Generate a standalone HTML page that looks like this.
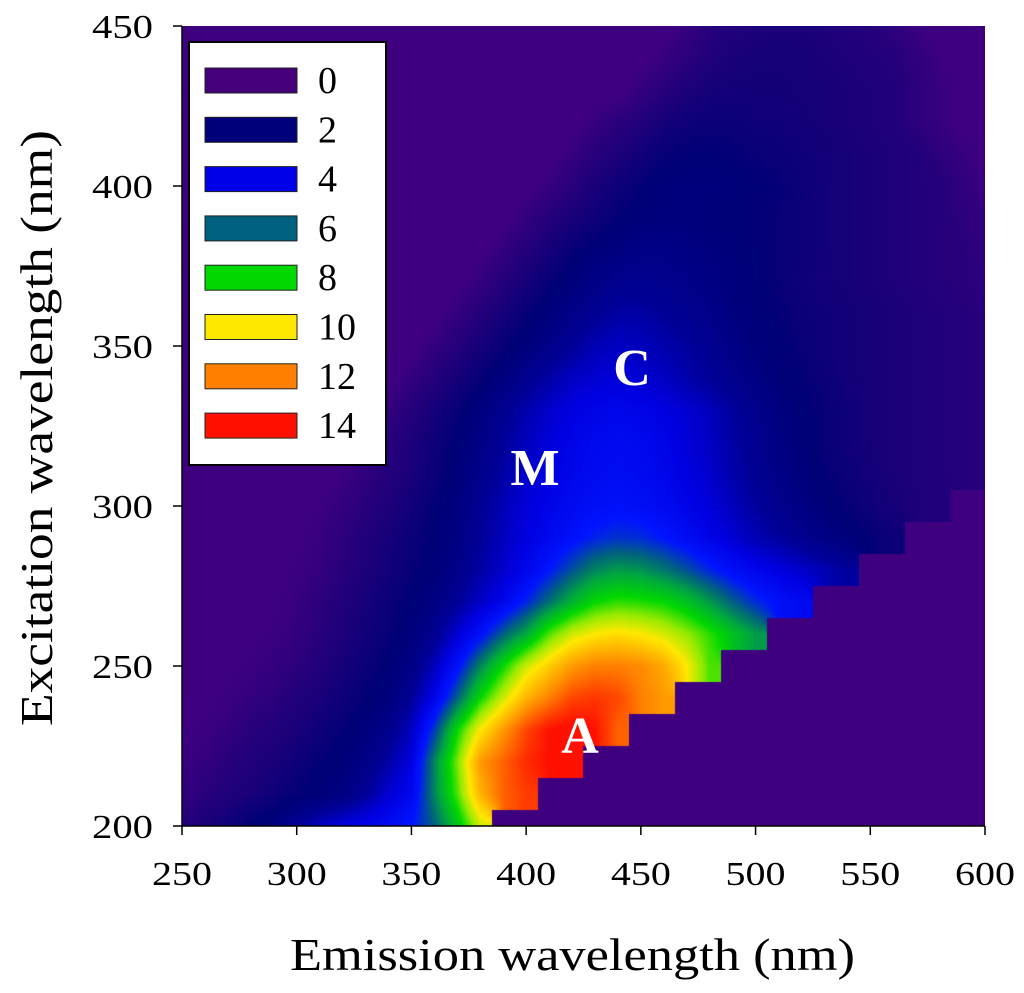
<!DOCTYPE html>
<html><head><meta charset="utf-8">
<style>
html,body{margin:0;padding:0;background:#fff;width:1024px;height:993px;overflow:hidden}
#wrap{position:relative;width:1024px;height:993px;font-family:"Liberation Serif",serif}
canvas{position:absolute;left:182px;top:26px}
svg{position:absolute;left:0;top:0}
svg text{font-family:"Liberation Serif",serif}
</style></head><body>
<div id="wrap">
<canvas id="cv" width="803" height="800"></canvas>
<svg id="sv" width="1024" height="993"></svg>
</div>
<script>
const emWavelengths=[250,260,270,280,290,300,310,320,330,340,350,360,370,380,390,400,410,420,430,440,450,460,470,480,490,500,510,520,530,540,550,560,570,580,590,600];
const exWavelengths=[200,210,220,230,240,250,260,270,280,290,300,310,320,330,340,350,360,370,380,390,400,410,420,430,440,450];
const Z=(n)=>Array(n).fill(0);
const B=(n)=>Array(n).fill(0.2);
const intensity=[
[1,1.3,1.6,2,2.3,3,3.6,4,4.3,4.6,5,6,7.5,9.5,...Z(22)],
[0.6,0.9,1.1,1.3,1.6,1.9,2.1,2.4,3,3.8,4.4,6.5,8.5,11,12.5,13.2,...Z(20)],
[0.4,0.6,0.9,1.1,1.3,1.6,1.9,2.1,2.5,3.2,4,6.5,8.8,11.5,12.5,13.5,14,14.2,...Z(18)],
[0.3,0.4,0.6,0.9,1.1,1.3,1.6,1.9,2.2,2.7,3.6,5.5,8,10,11.5,13,14,14.3,14,12.5,...Z(16)],
[0.2,0.3,0.4,0.6,0.8,1.1,1.3,1.6,1.9,2.2,3,4.2,6,8,9.5,11,12,13,13.3,13,12,11.5,...Z(14)],
[0.2,0.2,0.3,0.4,0.6,0.8,1.1,1.4,1.7,2,2.5,3.5,4.8,6.5,8,9.5,10.5,11.5,12,12,11.8,11.2,10,8.5,...Z(12)],
[0.2,0.2,0.2,0.3,0.4,0.6,0.9,1.2,1.5,1.8,2.2,2.8,3.8,4.8,6,7,8.5,9.5,10,10.2,10,9.6,9,8.3,7.5,6.8,...Z(10)],
[0.2,0.2,0.2,0.2,0.3,0.5,0.8,1.1,1.4,1.7,2,2.4,3,3.6,4.3,5.2,6.2,7.2,8,8.3,8.2,8,7.5,6.8,6,5.3,4.8,4.5,...Z(8)],
[0.2,0.2,0.2,0.2,0.3,0.4,0.6,0.9,1.2,1.5,1.8,2.1,2.6,3.2,3.7,4.3,5,5.8,6.5,6.8,6.7,6.3,5.8,5.2,4.7,4.3,4,3.7,3.4,3.1,...Z(6)],
[...B(5),0.3,0.5,0.8,1.1,1.4,1.7,2,2.4,3,3.5,4,4.4,4.8,5.2,5.4,5.3,5,4.6,4.2,3.8,3.4,3.1,2.8,2.5,2.2,1.9,1.7,...Z(4)],
[...B(6),0.4,0.6,0.9,1.2,1.5,1.9,2.3,2.9,3.4,3.9,4.2,4.5,4.7,4.8,4.7,4.5,4.2,3.9,3.5,3.1,2.7,2.4,2.1,1.8,1.6,1.4,1.2,1.1,0,0],
[...B(7),0.4,0.7,1,1.3,1.7,2.1,2.7,3.2,3.7,4,4.3,4.5,4.6,4.5,4.3,4,3.7,3.3,2.9,2.5,2.2,1.9,1.7,1.5,1.3,1.2,1.1,1,0.9],
[...B(8),0.5,0.9,1.2,1.6,2,2.5,3,3.5,3.9,4.2,4.4,4.5,4.4,4.2,3.9,3.6,3.2,2.8,2.4,2.1,1.8,1.6,1.4,1.3,1.2,1.1,1,0.9],
[...B(9),0.6,1,1.4,1.8,2.3,2.8,3.3,3.7,4,4.2,4.3,4.2,4,3.8,3.5,3.1,2.7,2.3,2,1.8,1.6,1.4,1.3,1.2,1.1,1,0.9],
[...B(10),0.6,1,1.4,1.8,2.3,2.8,3.2,3.6,3.8,3.9,3.8,3.6,3.3,3,2.7,2.4,2.1,1.9,1.7,1.5,1.4,1.3,1.2,1.1,1,0.9],
[...B(11),0.6,1,1.4,1.8,2.2,2.6,3,3.4,3.6,3.5,3.3,3.1,2.8,2.5,2.2,2,1.8,1.6,1.5,1.4,1.3,1.2,1.1,1,0.9],
[...B(12),0.6,1,1.4,1.8,2.2,2.6,2.9,3.2,3.2,3,2.8,2.6,2.3,2.1,1.9,1.7,1.6,1.5,1.4,1.3,1.2,1.1,1,0.9],
[...B(13),0.6,1,1.4,1.8,2.2,2.5,2.7,2.8,2.7,2.6,2.4,2.2,2,1.8,1.6,1.5,1.4,1.3,1.2,1.1,1,0.9,0.8],
[...B(14),0.6,1,1.4,1.8,2.1,2.3,2.5,2.5,2.4,2.3,2.1,2,1.8,1.7,1.5,1.4,1.3,1.2,1.1,1,0.9,0.7],
[...B(15),0.6,1,1.3,1.6,1.9,2.1,2.2,2.2,2.1,2,1.9,1.8,1.7,1.5,1.4,1.3,1.2,1.1,1,0.8,0.6],
[...B(16),0.5,0.9,1.3,1.6,1.9,2.1,2.2,2.2,2.1,2,1.9,1.7,1.5,1.4,1.3,1.2,1.1,1,0.7,0.4],
[...B(17),0.5,0.9,1.2,1.5,1.8,1.9,2,1.9,1.8,1.7,1.6,1.5,1.4,1.3,1.2,1.1,0.8,0.5,0.3],
[...B(18),0.5,0.8,1.1,1.4,1.6,1.7,1.7,1.6,1.6,1.5,1.4,1.3,1.2,1.1,0.8,0.5,0.3,0.2],
[...B(20),0.6,0.9,1.2,1.4,1.5,1.5,1.5,1.4,1.4,1.3,1.2,1.1,0.8,0.5,0.3,0.2],
[...B(21),0.5,0.8,1.1,1.3,1.4,1.4,1.4,1.3,1.2,1.1,1,0.7,0.4,0.2,0.2],
[...B(22),0.5,0.9,1.1,1.2,1.3,1.3,1.2,1.1,1,0.7,0.4,0.2,0.2,0.2]
];
const legendLevels=[0,2,4,6,8,10,12,14];
const legendColors=["#46007a","#000078","#0000e8","#006080","#00d800","#ffe800","#ff8000","#ff1000"];
const xTicks=[250,300,350,400,450,500,550,600];
const yTicks=[200,250,300,350,400,450];

const PX0=182,PX1=985,PY0=26,PY1=826;
const xS=v=>PX0+(v-250)/(600-250)*(PX1-PX0);
const yS=v=>PY1-(v-200)/(450-200)*(PY1-PY0);

const stops=[[0,[64,0,128]],[0.3,[62,0,128]],[2,[0,0,118]],[3,[0,0,150]],[4,[0,0,225]],[5,[0,20,255]],[6,[0,96,128]],[7,[0,170,60]],[8,[0,216,0]],[9,[150,235,0]],[10,[255,232,0]],[11,[255,180,0]],[12,[255,128,0]],[13,[255,70,0]],[14,[255,16,0]],[20,[255,16,0]]];
function cmap(v){for(let i=0;i<stops.length-1;i++){const a=stops[i],b=stops[i+1];if(v<=b[0]){const t=Math.max(0,(v-a[0])/(b[0]-a[0]));return [0,1,2].map(k=>a[1][k]+(b[1][k]-a[1][k])*t);}}return stops[stops.length-1][1];}

(function(){
const cv=document.getElementById('cv');const ctx=cv.getContext('2d');
const W=cv.width,H=cv.height;const img=ctx.createImageData(W,H);
const emMin=emWavelengths[0],emStep=emWavelengths[1]-emWavelengths[0];
const exMin=exWavelengths[0],exStep=exWavelengths[1]-exWavelengths[0];
const nE=emWavelengths.length,nX=exWavelengths.length;
for(let py=0;py<H;py++){
 const ex=200+(PY1-(PY0+py+0.5))/(PY1-PY0)*250;
 const fy=Math.min(nX-1,Math.max(0,(ex-exMin)/exStep));
 const j0=Math.min(nX-2,Math.floor(fy)),ty=fy-j0,jn=Math.round(fy);
 for(let px=0;px<W;px++){
  const em=250+(px+0.5)/(PX1-PX0)*350;
  const fx=Math.min(nE-1,Math.max(0,(em-emMin)/emStep));
  const i0=Math.min(nE-2,Math.floor(fx)),tx=fx-i0,inr=Math.round(fx);
  let v;
  if(intensity[jn][inr]===0){v=0.2;}
  else{
   let s=0,w=0;
   const c=[[j0,i0,(1-ty)*(1-tx)],[j0,i0+1,(1-ty)*tx],[j0+1,i0,ty*(1-tx)],[j0+1,i0+1,ty*tx]];
   for(const [j,i,ww] of c){const z=intensity[j][i];if(z>0){s+=z*ww;w+=ww;}}
   v=w>0?s/w:0.2;
  }
  const col=cmap(v);const k=(py*W+px)*4;
  img.data[k]=col[0];img.data[k+1]=col[1];img.data[k+2]=col[2];img.data[k+3]=255;
 }
}
ctx.putImageData(img,0,0);
})();

(function(){
const NS="http://www.w3.org/2000/svg";const sv=document.getElementById('sv');
function mk(tag,attrs,parent){const e=document.createElementNS(NS,tag);for(const k in attrs)e.setAttribute(k,attrs[k]);(parent||sv).appendChild(e);return e;}
let e;
e=mk('line',{x1:PX0,y1:PY0,x2:PX0,y2:PY1+1,stroke:'#000','stroke-width':1.5});


e=mk('line',{x1:PX0,y1:PY1,x2:PX1,y2:PY1,stroke:'#000','stroke-width':1.5});


xTicks.forEach(t=>{
 e=mk('line',{x1:xS(t),y1:PY1,x2:xS(t),y2:PY1+9,stroke:'#000','stroke-width':1.5});
 
 
 e=mk('text',{x:xS(t)-30,y:PY1+59,'font-size':34,textLength:60,lengthAdjust:'spacingAndGlyphs'});
 e.textContent=t;
 
 
});
yTicks.forEach(t=>{
 e=mk('line',{x1:PX0-9,y1:yS(t),x2:PX0,y2:yS(t),stroke:'#000','stroke-width':1.5});
 
 
 e=mk('text',{x:92,y:yS(t)+12,'font-size':34,textLength:61,lengthAdjust:'spacingAndGlyphs'});
 e.textContent=t;
 
 
});
e=mk('text',{x:290,y:970,'font-size':46,textLength:565,lengthAdjust:'spacingAndGlyphs'});
e.textContent='Emission wavelength (nm)';


e=mk('text',{x:0,y:0,'font-size':46,textLength:596,lengthAdjust:'spacingAndGlyphs',transform:'translate(52,726) rotate(-90)'});
e.textContent='Excitation wavelength (nm)';


const lg=mk('g',{});


mk('rect',{x:189,y:42,width:197,height:423,fill:'#fff',stroke:'#000','stroke-width':2},lg);
legendLevels.forEach((lv,i)=>{
 const cy=80+i*49.3;
 e=mk('rect',{x:205,y:cy-12,width:92,height:25,fill:legendColors[i],stroke:'#222','stroke-width':1},lg);
 
 
 e=mk('text',{x:318,y:cy+13,'font-size':38},lg);
 e.textContent=lv;
 
 
});
[['C',632,367],['M',535,467],['A',580,735]].forEach(([t,x,y])=>{
 e=mk('text',{x:x,y:y+18,'text-anchor':'middle','font-size':52,'font-weight':'bold',fill:'#fff'});
 e.textContent=t;
 
 
});
})();
</script>
</body></html>
